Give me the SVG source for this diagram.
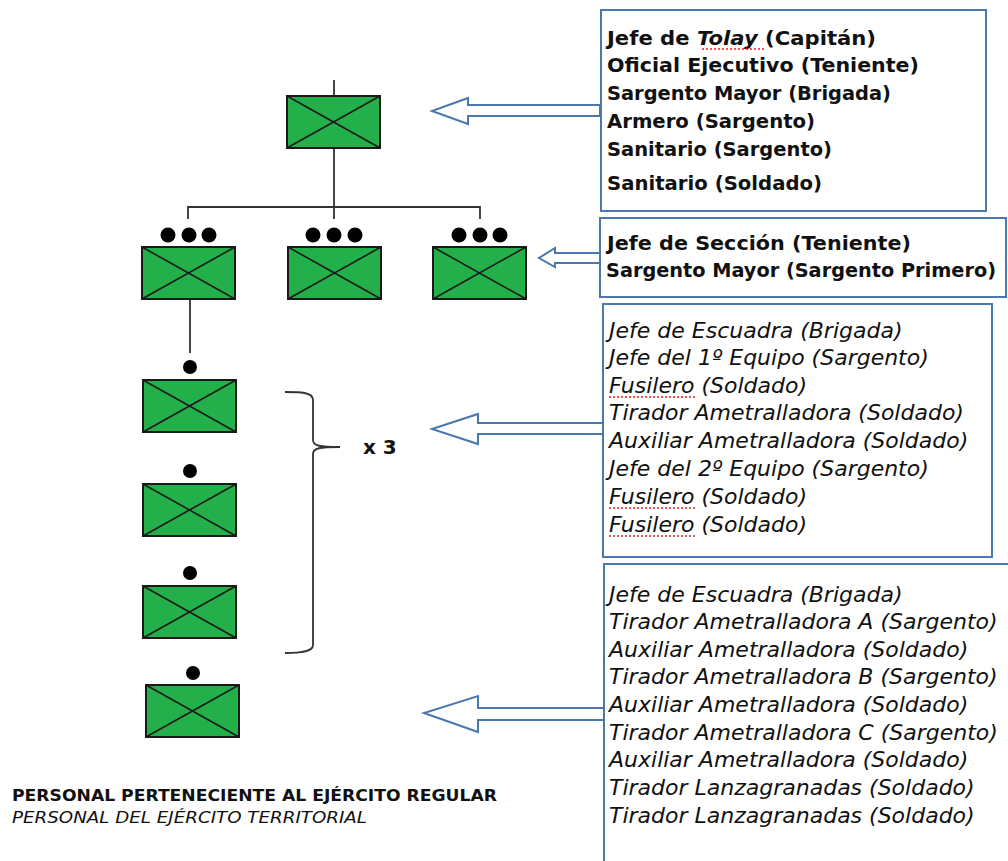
<svg xmlns="http://www.w3.org/2000/svg" width="1008" height="861" viewBox="0 0 1008 861">
<style>
.unit{fill:#23b04a;stroke:#1a1a1a;stroke-width:2}
.x{stroke:#1a1a1a;stroke-width:1.6;fill:none}
.ln{stroke:#333;stroke-width:1.8;fill:none}
.dot{fill:#000}
.box{fill:#fff;stroke:#4a78ad;stroke-width:2}
.arr{fill:#fff;stroke:#4a78ad;stroke-width:2;stroke-linejoin:miter}
.b{font-family:"DejaVu Sans","Liberation Sans",sans-serif;font-size:20px;font-weight:700;fill:#111}
.i{font-family:"DejaVu Sans","Liberation Sans",sans-serif;font-size:22px;font-style:italic;fill:#111}
.red{stroke:#e02020;stroke-width:1.5;stroke-dasharray:2 2;fill:none}
</style>
<defs>
<g id="sym">
<rect class="unit" x="0" y="0" width="93" height="52"/>
<path class="x" d="M0,0 L93,52 M93,0 L0,52"/>
</g>
</defs>

<g id="connectors">
<path class="ln" d="M334,80 V96 M334,148 V207 M188,219 V207 H480 V219 M334,207 V219 M190,299 V353"/>
<path class="ln" d="M285,392 C300,392 313,392 313,400 V440 C313,446 320,447 340,447 C320,447 313,448 313,454 V645 C313,652 300,653 285,653"/>
<polygon class="arr" points="600,105 468,105 468,98 432,111 468,124 468,116 600,116"/>
<polygon class="arr" points="600,253 555,253 555,248 539,258 555,267 555,263 600,263"/>
<polygon class="arr" points="603,423 478,423 478,414 432,429 478,444 478,434 603,434"/>
<polygon class="arr" points="604,708 478,708 478,696 424,713 478,732 478,720 604,720"/>
</g>

<g id="company">
<use href="#sym" x="287" y="96"/>
</g>
<g id="platoon1">
<circle class="dot" cx="168" cy="235" r="7.5"/><circle class="dot" cx="189" cy="235" r="7.5"/><circle class="dot" cx="209" cy="235" r="7.5"/>
<use href="#sym" x="142" y="247"/>
</g>
<g id="platoon2">
<circle class="dot" cx="313" cy="235" r="7.5"/><circle class="dot" cx="334" cy="235" r="7.5"/><circle class="dot" cx="355" cy="235" r="7.5"/>
<use href="#sym" x="288" y="247"/>
</g>
<g id="platoon3">
<circle class="dot" cx="459" cy="235" r="7.5"/><circle class="dot" cx="480" cy="235" r="7.5"/><circle class="dot" cx="500" cy="235" r="7.5"/>
<use href="#sym" x="433" y="247"/>
</g>
<g id="squad1">
<circle class="dot" cx="190" cy="367" r="7"/>
<use href="#sym" x="143" y="380"/>
</g>
<g id="squad2">
<circle class="dot" cx="190" cy="471" r="7"/>
<use href="#sym" x="143" y="484"/>
</g>
<g id="squad3">
<circle class="dot" cx="190" cy="573" r="7"/>
<use href="#sym" x="143" y="586"/>
</g>
<g id="squad4">
<circle class="dot" cx="193" cy="673" r="7"/>
<use href="#sym" x="146" y="685"/>
</g>
<g id="multiplier">
<text x="363" y="454" style="font-family:'DejaVu Sans',sans-serif;font-size:20px;font-weight:700;fill:#111">x 3</text>
</g>

<g id="box-company">
<rect class="box" x="601" y="10" width="385" height="201"/>
<text class="b" x="607" y="45" textLength="269" lengthAdjust="spacingAndGlyphs">Jefe de <tspan font-style="italic">Tolay</tspan> (Capitán)</text>
<path class="red" d="M702,49 H764"/>
<text class="b" x="607" y="72" textLength="312" lengthAdjust="spacingAndGlyphs">Oficial Ejecutivo (Teniente)</text>
<text class="b" x="607" y="100" textLength="284" lengthAdjust="spacingAndGlyphs">Sargento Mayor (Brigada)</text>
<text class="b" x="607" y="128" textLength="208" lengthAdjust="spacingAndGlyphs">Armero (Sargento)</text>
<text class="b" x="607" y="156" textLength="225" lengthAdjust="spacingAndGlyphs">Sanitario (Sargento)</text>
<text class="b" x="607" y="190" textLength="215" lengthAdjust="spacingAndGlyphs">Sanitario (Soldado)</text>
</g>

<g id="box-platoon">
<rect class="box" x="600" y="218" width="406" height="79"/>
<text class="b" x="607" y="250" textLength="304" lengthAdjust="spacingAndGlyphs">Jefe de Sección (Teniente)</text>
<text class="b" x="606" y="277" style="font-size:19px" textLength="390" lengthAdjust="spacingAndGlyphs">Sargento Mayor (Sargento Primero)</text>
</g>

<g id="box-squad">
<rect class="box" x="603" y="304" width="389" height="253"/>
<text class="i" x="609" y="338">Jefe de Escuadra (Brigada)</text>
<text class="i" x="609" y="365">Jefe del 1º Equipo (Sargento)</text>
<text class="i" x="609" y="393">Fusilero (Soldado)</text>
<path class="red" d="M609,397 H697"/>
<text class="i" x="609" y="420">Tirador Ametralladora (Soldado)</text>
<text class="i" x="609" y="448">Auxiliar Ametralladora (Soldado)</text>
<text class="i" x="609" y="476">Jefe del 2º Equipo (Sargento)</text>
<text class="i" x="609" y="504">Fusilero (Soldado)</text>
<path class="red" d="M609,508 H697"/>
<text class="i" x="609" y="532">Fusilero (Soldado)</text>
<path class="red" d="M609,536 H697"/>
</g>

<g id="box-weapons">
<path class="box" d="M604,862 V564 H1010"/>
<text class="i" x="609" y="602">Jefe de Escuadra (Brigada)</text>
<text class="i" x="609" y="629">Tirador Ametralladora A (Sargento)</text>
<text class="i" x="609" y="657">Auxiliar Ametralladora (Soldado)</text>
<text class="i" x="609" y="684">Tirador Ametralladora B (Sargento)</text>
<text class="i" x="609" y="712">Auxiliar Ametralladora (Soldado)</text>
<text class="i" x="609" y="740">Tirador Ametralladora C (Sargento)</text>
<text class="i" x="609" y="767">Auxiliar Ametralladora (Soldado)</text>
<text class="i" x="609" y="795">Tirador Lanzagranadas (Soldado)</text>
<text class="i" x="609" y="823">Tirador Lanzagranadas (Soldado)</text>
</g>

<g id="legend">
<text x="12" y="801" textLength="485" lengthAdjust="spacingAndGlyphs" style="font-family:'DejaVu Sans',sans-serif;font-size:16px;font-weight:700;fill:#111">PERSONAL PERTENECIENTE AL EJÉRCITO REGULAR</text>
<text x="12" y="823" textLength="355" lengthAdjust="spacingAndGlyphs" style="font-family:'DejaVu Sans',sans-serif;font-size:16px;font-style:italic;fill:#111">PERSONAL DEL EJÉRCITO TERRITORIAL</text>
</g>
</svg>
